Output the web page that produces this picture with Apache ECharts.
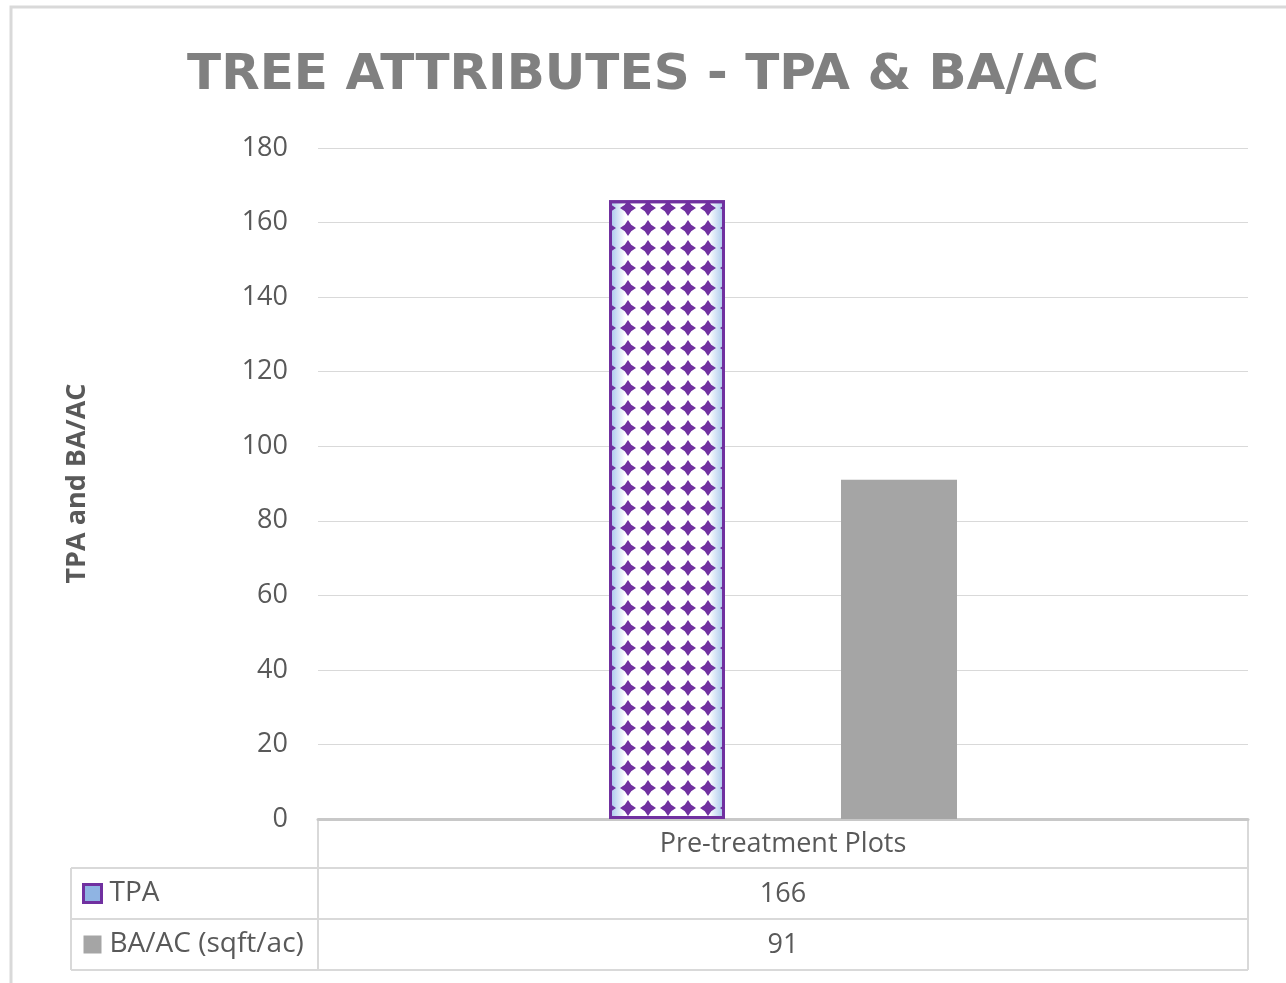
<!DOCTYPE html>
<html>
<head>
<meta charset="utf-8">
<script src="https://cdn.jsdelivr.net/npm/echarts@6/dist/echarts.min.js"></script>
<style>
  html, body { margin: 0; padding: 0; background: #fff; }
  #chart { width: 1286px; height: 983px; }
</style>
</head>
<body>
<div id="chart"></div>
<script>
const categories = ['Pre-treatment Plots']
const seriesNames = ['TPA', 'BA/AC (sqft/ac)']
const tpaValues = [166]
const baValues = [91]
const yTicks = { min: 0, max: 180, interval: 20 }

const chart = echarts.init(document.getElementById('chart'))
const grey = '#d9d9d9'
const txt = '#595959'
const font = 'Open Sans'
const purple = '#7030a0'

// fat four-point star used as decal over the TPA bar
const starPath = 'path://M10,0 L14,6 L20,10 L14,14 L10,20 L6,14 L0,10 L6,6 Z'

const tableLines = [
  [318, 819, 318, 970],
  [1248, 819, 1248, 970],
  [71, 868, 71, 970],
  [71, 868, 1248, 868],
  [71, 919, 1248, 919],
  [71, 970, 1248, 970],
]

chart.setOption({
  animation: false,
  title: {
    text: 'TREE ATTRIBUTES - TPA & BA/AC',
    left: 'center',
    top: 51,
    padding: [0, 0, 0, 10],
    textStyle: { fontFamily: 'DejaVu Sans', fontWeight: 'bold', fontSize: 50, color: '#808080' },
  },
  legend: {
    orient: 'vertical',
    left: 82,
    top: 879,
    padding: 0,
    itemGap: 22,
    itemWidth: 18,
    itemHeight: 18,
    icon: 'rect',
    textStyle: { fontFamily: font, fontSize: 28, color: txt, lineHeight: 29, padding: [0, 0, 0, 3] },
    data: [
      { name: seriesNames[0], itemStyle: { color: '#8fb4e3', borderColor: purple, borderWidth: 3, decal: 'none' } },
      { name: seriesNames[1], itemStyle: { color: '#a5a5a5' } },
    ],
  },
  grid: { left: 318, right: 38, top: 148, bottom: 164 },
  xAxis: {
    type: 'category',
    data: categories,
    axisLine: { lineStyle: { color: '#c8c8c8', width: 3 } },
    axisTick: { show: false },
    axisLabel: {
      margin: 0,
      formatter: (v, i) => v + '\n' + tpaValues[i] + '\n' + baValues[i],
      fontFamily: font,
      fontSize: 27,
      lineHeight: 50.5,
      color: txt,
    },
  },
  yAxis: {
    type: 'value',
    min: yTicks.min,
    max: yTicks.max,
    interval: yTicks.interval,
    name: 'TPA and BA/AC',
    nameLocation: 'middle',
    nameRotate: 90,
    nameGap: 227,
    nameTextStyle: { fontFamily: font, fontWeight: 'bold', fontSize: 27, color: txt },
    axisLine: { show: false },
    axisTick: { show: false },
    axisLabel: { margin: 30, fontFamily: font, fontSize: 27, color: txt },
    splitLine: { lineStyle: { color: grey, width: 1 } },
  },
  series: [
    {
      name: seriesNames[0],
      type: 'bar',
      data: tpaValues,
      barWidth: 116,
      barGap: '100%',
      itemStyle: {
        color: new echarts.graphic.LinearGradient(0, 0, 1, 0, [
          { offset: 0, color: '#9fc2ea' },
          { offset: 0.14, color: '#ffffff' },
          { offset: 0.86, color: '#ffffff' },
          { offset: 1, color: '#9fc2ea' },
        ]),
        borderColor: purple,
        borderWidth: 3,
        decal: {
          symbol: starPath,
          symbolSize: 1,
          color: purple,
          dashArrayX: [16, 4],
          dashArrayY: [16, 4],
          rotation: 0,
        },
      },
    },
    {
      name: seriesNames[1],
      type: 'bar',
      data: baValues,
      barWidth: 116,
      itemStyle: { color: '#a5a5a5' },
    },
  ],
  graphic: [
    {
      type: 'rect',
      shape: { x: 11, y: 7, width: 1300, height: 1000 },
      style: { fill: 'none', stroke: grey, lineWidth: 3 },
      silent: true,
    },
    ...tableLines.map(l => ({
      type: 'line',
      shape: { x1: l[0], y1: l[1], x2: l[2], y2: l[3] },
      style: { stroke: grey, lineWidth: 2 },
      silent: true,
    })),
  ],
})
</script>
</body>
</html>
